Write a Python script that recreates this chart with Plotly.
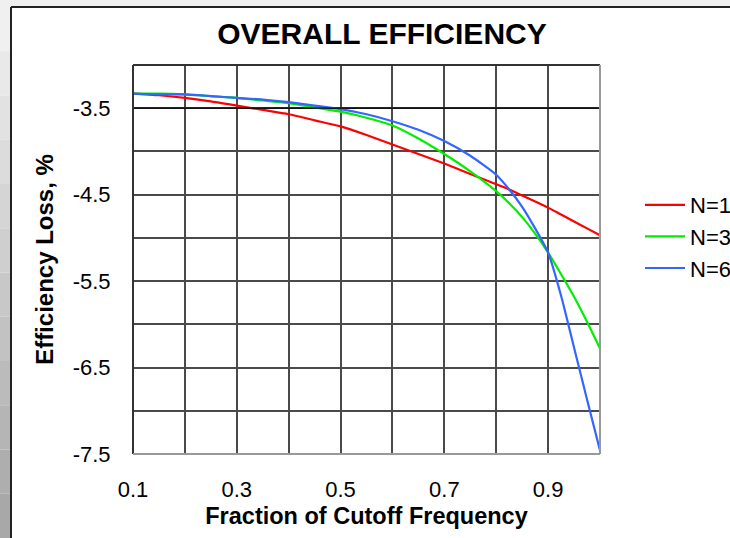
import plotly.graph_objects as go

# Fraction of cutoff frequency
fraction = [0.10, 0.15, 0.20, 0.25, 0.30, 0.35, 0.40, 0.45, 0.50, 0.55,
            0.60, 0.65, 0.70, 0.75, 0.80, 0.825, 0.85, 0.875, 0.90, 0.925,
            0.95, 0.975, 1.00]

# Efficiency loss, %
loss_n1 = [-3.33, -3.35, -3.38, -3.42, -3.47, -3.52, -3.57, -3.64, -3.71, -3.81,
           -3.92, -4.03, -4.14, -4.26, -4.38, -4.44, -4.51, -4.58, -4.65, -4.73,
           -4.81, -4.89, -4.97]
loss_n3 = [-3.33, -3.33, -3.34, -3.36, -3.38, -3.41, -3.44, -3.49, -3.54, -3.61,
           -3.70, -3.85, -4.03, -4.23, -4.46, -4.60, -4.76, -4.95, -5.17, -5.42,
           -5.68, -5.97, -6.28]
loss_n6 = [-3.33, -3.34, -3.34, -3.36, -3.38, -3.40, -3.43, -3.47, -3.51, -3.57,
           -3.65, -3.75, -3.88, -4.05, -4.27, -4.44, -4.64, -4.89, -5.17, -5.67,
           -6.27, -6.87, -7.46]

series = [("N=1", loss_n1, "#ff0000"),
          ("N=3", loss_n3, "#00ee00"),
          ("N=6", loss_n6, "#3366ff")]

x_ticks = [0.1, 0.3, 0.5, 0.7, 0.9]
y_ticks = [-3.5, -4.5, -5.5, -6.5, -7.5]
AXIS_CROSS = -3.5

FONT = "Liberation Sans, Arial, sans-serif"
W, H = 730, 538
L, R, T, B = 133, 130, 65, 84

fig = go.Figure()
for name, ys, color in series:
    fig.add_trace(go.Scatter(
        x=fraction, y=ys, name=name, mode="lines",
        line=dict(color=color, width=2.2, shape="spline", smoothing=0.6),
    ))


def px_x(px):
    return (px - L) / (W - L - R)


def px_y(py):
    return (H - B - py) / (H - T - B)


shapes = []
# grey bevel frame outside the white panel
shapes.append(dict(type="rect", xref="paper", yref="paper",
                   x0=px_x(0), x1=px_x(W), y0=px_y(7), y1=px_y(0),
                   fillcolor="#f0f0f0", line=dict(width=0), layer="below"))
bands = 12
for i in range(bands):
    g = int(240 - (240 - 168) * i / (bands - 1))
    shapes.append(dict(type="rect", xref="paper", yref="paper",
                       x0=px_x(0), x1=px_x(11),
                       y0=px_y(7 + (H - 7) * (i + 1) / bands),
                       y1=px_y(7 + (H - 7) * i / bands),
                       fillcolor=f"rgb({g},{g},{g})", line=dict(width=0),
                       layer="below"))
shapes.append(dict(type="line", xref="paper", yref="paper",
                   x0=px_x(11), x1=px_x(11), y0=px_y(H), y1=px_y(7),
                   line=dict(color="#222", width=2)))
shapes.append(dict(type="line", xref="paper", yref="paper",
                   x0=px_x(11), x1=px_x(W), y0=px_y(7), y1=px_y(7),
                   line=dict(color="#222", width=2)))
# axis crossing line
shapes.append(dict(type="line", xref="paper", yref="y",
                   x0=0, x1=1, y0=AXIS_CROSS, y1=AXIS_CROSS,
                   line=dict(color="#000", width=1.2)))
# plot border
shapes.append(dict(type="line", xref="paper", yref="paper", x0=0, x1=1, y0=1, y1=1,
                   line=dict(color="#333", width=2)))
shapes.append(dict(type="line", xref="paper", yref="paper", x0=0, x1=0, y0=0, y1=1,
                   line=dict(color="#333", width=2)))
shapes.append(dict(type="line", xref="paper", yref="paper", x0=1, x1=1, y0=0, y1=1,
                   line=dict(color="#999", width=2)))
shapes.append(dict(type="line", xref="paper", yref="paper", x0=0, x1=1, y0=0, y1=0,
                   line=dict(color="#999", width=2)))

fig.update_layout(
    width=W, height=H,
    margin=dict(l=L, r=R, t=T, b=B, autoexpand=False),
    paper_bgcolor="white", plot_bgcolor="white",
    font=dict(family=FONT, color="black", size=22),
    title=dict(text="<b>OVERALL EFFICIENCY</b>", x=382 / W, xref="container",
               y=1 - 33 / H, yref="container", xanchor="center", yanchor="middle",
               font=dict(size=30)),
    xaxis=dict(range=[0.1, 1.0], tickvals=x_ticks,
               ticktext=[f"{v:.1f}" for v in x_ticks],
               showgrid=True, gridcolor="#4a4a4a", gridwidth=1.5,
               ticks="outside", ticklen=16, tickcolor="rgba(0,0,0,0)",
               zeroline=False, showline=False,
               title=dict(text="<b>Fraction of Cutoff Frequency</b>",
                          font=dict(size=23.5), standoff=6)),
    yaxis=dict(range=[-7.5, -3.0], tickvals=y_ticks,
               ticktext=[f"{v:.1f}" for v in y_ticks],
               showgrid=False,
               ticks="outside", ticklen=17, tickcolor="rgba(0,0,0,0)",
               zeroline=False, showline=False,
               title=dict(text="<b>Efficiency Loss, %</b>",
                          font=dict(size=24), standoff=12)),
    legend=dict(x=px_x(640), y=px_y(184), xanchor="left", yanchor="top",
                font=dict(size=22), bgcolor="rgba(0,0,0,0)",
                tracegroupgap=0, itemwidth=40),
    showlegend=True,
    shapes=shapes,
)

# grid every 0.5 on y and every 0.1 on x
fig.update_yaxes(minor=dict(dtick=0.5, tick0=-7.5, showgrid=True,
                            gridcolor="#4a4a4a", gridwidth=1.5))
fig.update_xaxes(minor=dict(dtick=0.1, tick0=0.1, showgrid=True,
                            gridcolor="#4a4a4a", gridwidth=1.5))

fig.write_html("out.html", config={"displayModeBar": False},
               post_script="document.body.style.margin='0';")
